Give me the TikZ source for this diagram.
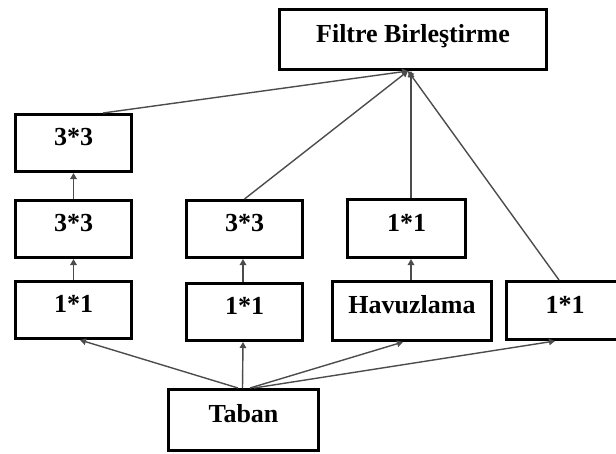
\documentclass[tikz,border=0pt]{standalone}
\usepackage{fontspec}
\setmainfont{Liberation Serif}
\usetikzlibrary{arrows.meta}
\begin{document}
\begin{tikzpicture}[x=1pt,y=-1pt,
  box/.style={draw=black,line width=3pt,fill=white,rectangle,inner sep=0pt,
    minimum width=116pt,minimum height=57pt,text height=12pt,text depth=7pt,
    font=\fontsize{26}{30}\selectfont\bfseries},
  conn/.style={draw=black!70,line width=1.4pt,-{Triangle[length=6pt,width=6.5pt]}}]
\path[use as bounding box] (0,0) rectangle (616,453);

% merge node and base node
\node[box,minimum width=267pt,minimum height=60pt] (F) at (413,39.5) {Filtre Birleştirme};
\node[box,minimum width=150pt,minimum height=61pt] (T) at (243.5,420) {Taban};

% branch 1: 1*1 -> 3*3 -> 3*3
\node[box] (a1) at (73.5,310) {1*1};
\node[box] (a2) at (73.5,229) {3*3};
\node[box] (a3) at (73.5,143) {3*3};

% branch 2: 1*1 -> 3*3
\node[box] (b1) at (244.5,312) {1*1};
\node[box] (b2) at (244.5,229) {3*3};

% branch 3: pooling -> 1*1
\node[box,minimum width=159pt,minimum height=59pt] (c1) at (412,311) {Havuzlama};
\node[box,minimum width=118pt,minimum height=58pt] (c2) at (406.5,228.5) {1*1};

% branch 4: 1*1
\node[box,minimum width=117pt,minimum height=58pt] (d1) at (565,310.5) {1*1};

\coordinate (cx) at (411,0);

% base to first layer
\draw[conn] ([xshift=-5.5pt]T.north) -- ([xshift=6.5pt]a1.south);
\draw[conn] ([xshift=-1pt]T.north) -- ([xshift=-1.5pt]b1.south);
\draw[conn] ([xshift=6.5pt]T.north) -- ([xshift=-9pt]c1.south);
\draw[conn] ([xshift=10.5pt]T.north) -- ([xshift=-10pt]d1.south);

% inside the branches
\draw[conn] (a1) -- (a2);
\draw[conn] (a2) -- (a3);
\draw[conn] ([xshift=-1.5pt]b1.north) -- ([xshift=-1.5pt]b2.south);
\draw[conn] (c1.north -| cx) -- (c2.south -| cx);

% branches to the merge
\draw[conn] ([xshift=29.5pt]a3.north) -- ([xshift=-5pt]F.south);
\draw[conn] (b2.north) -- ([xshift=-5pt]F.south);
\draw[conn] (c2.north -| cx) -- (F.south -| cx);
\draw[conn] ([xshift=-6pt]d1.north) -- ([xshift=-5pt]F.south);
\end{tikzpicture}
\end{document}
